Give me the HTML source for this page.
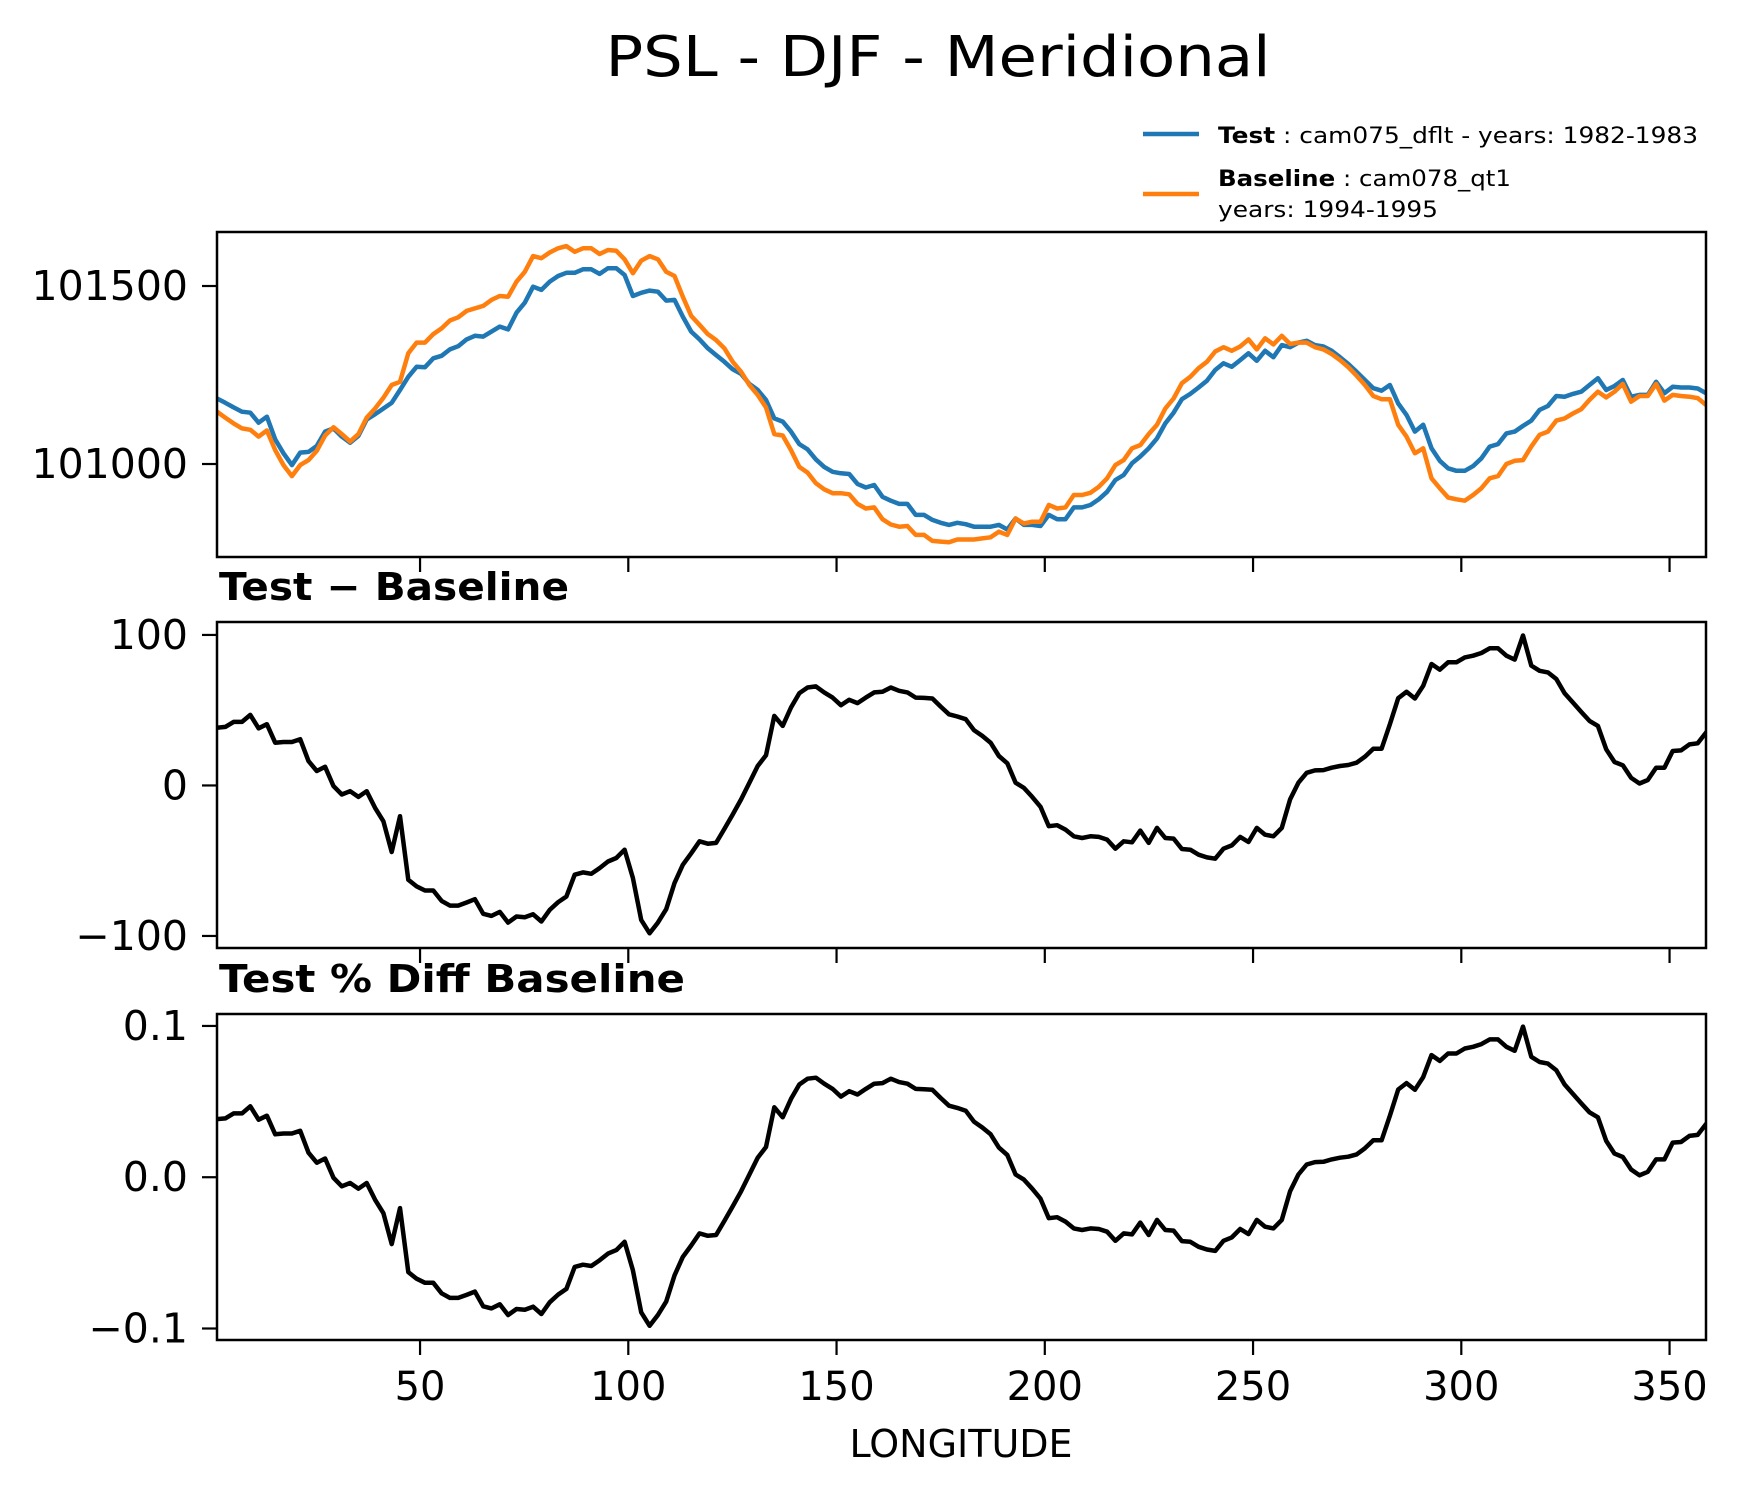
<!DOCTYPE html>
<html><head><meta charset="utf-8"><style>
html,body{margin:0;padding:0;background:#fff;}
svg{display:block;font-family:"DejaVu Sans","Liberation Sans",sans-serif;}
</style></head><body>
<svg id="fig" width="1738" height="1496" viewBox="0 0 1738 1496" xmlns="http://www.w3.org/2000/svg">
<rect width="1738" height="1496" fill="#fff"/>
<text x="938" y="76" font-size="56" text-anchor="middle" textLength="665" lengthAdjust="spacingAndGlyphs">PSL - DJF - Meridional</text>
<g>
<line x1="1143" y1="134" x2="1199" y2="134" stroke="#1f77b4" stroke-width="4.5"/>
<text x="1218" y="143" font-size="22" textLength="480" lengthAdjust="spacingAndGlyphs"><tspan font-weight="bold">Test</tspan> : cam075_dflt - years: 1982-1983</text>
<line x1="1143" y1="194" x2="1199" y2="194" stroke="#ff7f0e" stroke-width="4.5"/>
<text x="1218" y="186" font-size="22" textLength="293" lengthAdjust="spacingAndGlyphs"><tspan font-weight="bold">Baseline</tspan> : cam078_qt1</text>
<text x="1218" y="217" font-size="22" textLength="220" lengthAdjust="spacingAndGlyphs">years: 1994-1995</text>
</g>
<text x="219" y="600" font-size="38" font-weight="bold" textLength="350" lengthAdjust="spacingAndGlyphs">Test − Baseline</text>
<text x="219" y="992" font-size="38" font-weight="bold" textLength="466" lengthAdjust="spacingAndGlyphs">Test % Diff Baseline</text>
<text x="961" y="1457" font-size="38" text-anchor="middle">LONGITUDE</text>
</svg>
<script>
const xTicks = [50,100,150,200,250,300,350];
const xTickLabels = ["50","100","150","200","250","300","350"];
const p1Ticks = [101000,101500];
const p1TickLabels = ["101000","101500"];
const p2Ticks = [-100,0,100];
const p2TickLabels = ["\u2212100","0","100"];
const p3Ticks = [-0.1,0,0.1];
const p3TickLabels = ["\u22120.1","0.0","0.1"];
const lonStart = 1.25, lonEnd = 358.75;
const testVals = [101184,101172,101159,101147,101144,101116,101133,101069,101030,100997,101032,101034,101051,101091,101100,101077,101060,101079,101125,101140,101156,101172,101208,101245,101273,101272,101297,101304,101322,101331,101350,101360,101358,101372,101386,101378,101425,101453,101498,101489,101512,101528,101537,101537,101547,101547,101534,101550,101550,101531,101472,101481,101487,101484,101459,101461,101414,101372,101350,101325,
101306,101287,101266,101253,101225,101208,101180,101128,101119,101091,101056,101041,101013,100992,100978,100974,100972,100944,100934,100941,100908,100897,100888,100888,100857,100857,100843,100835,100829,100835,100831,100824,100824,100824,100829,100816,100847,100829,100829,100826,100857,100845,100845,100878,100878,100885,100901,100922,100955,100969,101002,101021,101044,101072,101114,101144,101182,101197,101215,101234,
101264,101283,101273,101292,101311,101290,101318,101300,101334,101328,101341,101346,101334,101330,101318,101300,101281,101259,101236,101213,101206,101222,101170,101138,101091,101110,101044,101009,100988,100981,100981,100994,101016,101049,101056,101086,101091,101107,101122,101152,101163,101191,101189,101197,101203,101222,101241,101208,101219,101236,101189,101194,101194,101231,101199,101217,101215,101215,101212,101199];
const baseVals = [101147,101130,101114,101100,101096,101077,101094,101039,100997,100966,100997,101011,101037,101080,101103,101084,101063,101084,101130,101156,101186,101222,101231,101311,101341,101341,101365,101381,101403,101412,101430,101437,101444,101461,101472,101470,101512,101540,101584,101578,101594,101606,101612,101596,101606,101606,101590,101601,101599,101575,101536,101571,101584,101575,101540,101528,101470,101416,101391,101365,
101348,101325,101287,101259,101222,101194,101159,101084,101080,101039,100992,100976,100946,100929,100918,100918,100915,100888,100875,100878,100845,100830,100824,100826,100801,100801,100784,100782,100780,100788,100788,100788,100791,100794,100810,100801,100847,100833,100838,100838,100885,100875,100878,100913,100913,100919,100936,100960,100997,101011,101044,101053,101084,101110,101156,101184,101227,101245,101269,101287,
101316,101328,101318,101330,101350,101322,101353,101336,101360,101337,101341,101341,101328,101322,101309,101292,101272,101248,101222,101191,101182,101182,101110,101077,101030,101044,100960,100932,100906,100901,100897,100913,100932,100960,100966,101000,101009,101011,101049,101082,101091,101122,101128,101142,101154,101180,101203,101187,101203,101225,101175,101191,101191,101225,101178,101194,101191,101189,101185,101166];
const diffVals = [38.4,38.9,42.2,42.2,46.9,38,40.7,28.4,28.9,28.9,30.7,16.2,9.6,12.4,-0.4,-6,-3.8,-7.6,-3.8,-14.9,-23.8,-44.2,-20.4,-62.7,-67.1,-69.8,-69.8,-76.7,-79.8,-79.8,-77.8,-75.6,-85.3,-86.7,-84,-91.1,-87.1,-87.6,-85.6,-90.4,-82.7,-77.6,-73.8,-59.3,-57.8,-58.7,-54.9,-50.5,-48.2,-42.7,-61.5,-89.3,-98.2,-91.1,-82.2,-64.9,-52.7,-45.1,-37.1,-38.7,
-38.2,-28.9,-19.3,-9.3,1.8,12.9,20,46.2,39.6,51.8,61.3,65.1,65.8,61.8,58.4,53.3,56.9,54.7,58.4,61.8,62.2,65.1,62.9,61.8,58.4,58.2,57.8,52.4,47.3,45.8,44,36.7,32.9,28.4,19.6,14.7,1.8,-1.6,-7.6,-14.2,-27.1,-26.4,-29.3,-33.8,-34.9,-33.8,-34.2,-36,-42,-37.1,-37.8,-30,-38.2,-28.2,-34.9,-35.3,-42.2,-42.7,-46,-47.8,
-48.7,-42,-39.8,-34.2,-37.6,-28.2,-32.7,-33.8,-28.2,-9.3,1.8,8.4,10,10.2,11.8,12.9,13.6,15.1,19.1,24.4,24.4,40.7,58,62.2,57.8,66.2,80.7,76.9,81.8,81.8,85.1,86.2,88,91.1,91.1,86.2,83.6,99.6,79.6,76.2,75.1,70.7,61.3,55.1,48.9,42.9,39.6,24,15.6,13.4,5.1,1.3,3.6,11.8,11.8,22.9,23.3,27.3,28,35.1];
const pctVals = [0.0384,0.0389,0.0422,0.0422,0.0469,0.038,0.0407,0.0284,0.0289,0.0289,0.0307,0.0162,0.0096,0.0124,-0.0004,-0.006,-0.0038,-0.0076,-0.0038,-0.0149,-0.0238,-0.0442,-0.0204,-0.0627,-0.0671,-0.0698,-0.0698,-0.0767,-0.0798,-0.0798,-0.0778,-0.0756,-0.0853,-0.0867,-0.084,-0.0911,-0.0871,-0.0876,-0.0856,-0.0904,-0.0827,-0.0776,-0.0738,-0.0593,-0.0578,-0.0587,-0.0549,-0.0505,-0.0482,-0.0427,-0.0615,-0.0893,-0.0982,-0.0911,-0.0822,-0.0649,-0.0527,-0.0451,-0.0371,-0.0387,
-0.0382,-0.0289,-0.0193,-0.0093,0.0018,0.0129,0.02,0.0462,0.0396,0.0518,0.0613,0.0651,0.0658,0.0618,0.0584,0.0533,0.0569,0.0547,0.0584,0.0618,0.0622,0.0651,0.0629,0.0618,0.0584,0.0582,0.0578,0.0524,0.0473,0.0458,0.044,0.0367,0.0329,0.0284,0.0196,0.0147,0.0018,-0.0016,-0.0076,-0.0142,-0.0271,-0.0264,-0.0293,-0.0338,-0.0349,-0.0338,-0.0342,-0.036,-0.042,-0.0371,-0.0378,-0.03,-0.0382,-0.0282,-0.0349,-0.0353,-0.0422,-0.0427,-0.046,-0.0478,
-0.0487,-0.042,-0.0398,-0.0342,-0.0376,-0.0282,-0.0327,-0.0338,-0.0282,-0.0093,0.0018,0.0084,0.01,0.0102,0.0118,0.0129,0.0136,0.0151,0.0191,0.0244,0.0244,0.0407,0.058,0.0622,0.0578,0.0662,0.0807,0.0769,0.0818,0.0818,0.0851,0.0862,0.088,0.0911,0.0911,0.0862,0.0836,0.0996,0.0796,0.0762,0.0751,0.0707,0.0613,0.0551,0.0489,0.0429,0.0396,0.024,0.0156,0.0134,0.0051,0.0013,0.0036,0.0118,0.0118,0.0229,0.0233,0.0273,0.028,0.0351];

const NS = "http://www.w3.org/2000/svg";
const svg = document.getElementById("fig");
const X0 = 217, X1 = 1706;
function xScale(lon){ return X0 + (lon - lonStart) / (lonEnd - lonStart) * (X1 - X0); }
function lonAt(i, n){ return lonStart + i * (lonEnd - lonStart) / (n - 1); }
function mk(tag, attrs){ const e = document.createElementNS(NS, tag); for (const k in attrs) e.setAttribute(k, attrs[k]); return e; }

function panel(id, top, bottom, ymin, ymax, yTicks, yLabels, series, showXLabels){
  const yScale = v => bottom - (v - ymin) / (ymax - ymin) * (bottom - top);
  const g = mk("g", {});
  
  
  svg.appendChild(g);
  const clip = mk("clipPath", {id: id + "-clip"});
  clip.appendChild(mk("rect", {x: X0, y: top, width: X1 - X0, height: bottom - top}));
  g.appendChild(clip);
  series.forEach(s => {
    const pts = s.vals.map((v, i) => xScale(lonAt(i, s.vals.length)).toFixed(1) + "," + yScale(v).toFixed(1)).join(" ");
    const pl = mk("polyline", {points: pts, fill: "none", stroke: s.color, "stroke-width": 4.5, "stroke-linejoin": "round", "stroke-linecap": "square", "clip-path": "url(#" + id + "-clip)"});
    
    
    g.appendChild(pl);
  });
  const frame = mk("rect", {x: X0, y: top, width: X1 - X0, height: bottom - top, fill: "none", stroke: "#000", "stroke-width": 2.5});
  
  
  g.appendChild(frame);
  yTicks.forEach((t, i) => {
    const y = yScale(t);
    const tk = mk("line", {x1: X0 - 15, x2: X0, y1: y, y2: y, stroke: "#000", "stroke-width": 2.2});
    
    
    g.appendChild(tk);
    const tx = mk("text", {x: 188, y: y + 14, "font-size": 41, "text-anchor": "end"});
    tx.textContent = yLabels[i];
    
    
    g.appendChild(tx);
  });
  xTicks.forEach((t, i) => {
    const x = xScale(t);
    const tk = mk("line", {x1: x, x2: x, y1: bottom, y2: bottom + 15, stroke: "#000", "stroke-width": 2.2});
    
    
    g.appendChild(tk);
    if (showXLabels) {
      const tx = mk("text", {x: x, y: bottom + 60, "font-size": 40, "text-anchor": "middle"});
      tx.textContent = xTickLabels[i];
      
      
      g.appendChild(tx);
    }
  });
}

panel("psl", 232, 557, 100738.8, 101651.7, p1Ticks, p1TickLabels,
  [{vals: testVals, color: "#1f77b4", name: "test-line"}, {vals: baseVals, color: "#ff7f0e", name: "baseline-line"}], false);
panel("diff", 622, 948, -108, 108.6, p2Ticks, p2TickLabels,
  [{vals: diffVals, color: "#000", name: "diff-line"}], false);
panel("pct", 1014, 1340, -0.1076, 0.1079, p3Ticks, p3TickLabels,
  [{vals: pctVals, color: "#000", name: "pct-diff-line"}], true);
</script>
</body></html>
